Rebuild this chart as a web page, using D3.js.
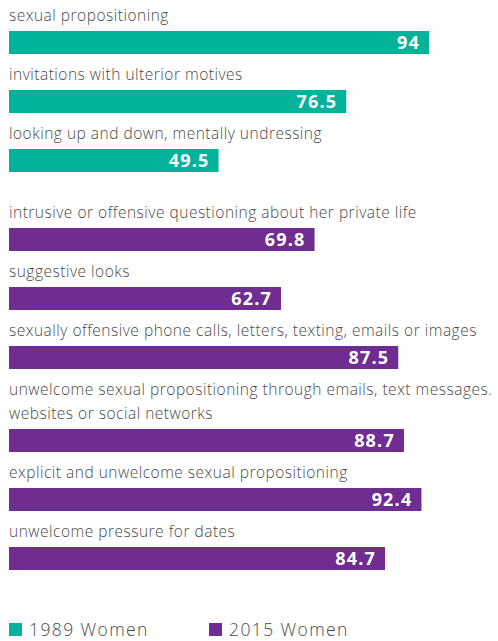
<!DOCTYPE html>
<html><head><meta charset="utf-8">
<script src="https://cdn.jsdelivr.net/npm/d3@7"></script>
<style>
html,body{margin:0;padding:0;background:#fff;}
</style></head>
<body>
<svg id="chart" width="498" height="641"></svg>
<script>
const categories = [
  ["sexual propositioning"],
  ["invitations with ulterior motives"],
  ["looking up and down, mentally undressing"],
  ["intrusive or offensive questioning about her private life"],
  ["suggestive looks"],
  ["sexually offensive phone calls, letters, texting, emails or images"],
  ["unwelcome sexual propositioning through emails, text messages.", "websites or social networks"],
  ["explicit and unwelcome sexual propositioning"],
  ["unwelcome pressure for dates"]
];
const values = [94, 76.5, 49.5, 69.8, 62.7, 87.5, 88.7, 92.4, 84.7];
const seriesOf = ["1989 Women", "1989 Women", "1989 Women", "2015 Women", "2015 Women", "2015 Women", "2015 Women", "2015 Women", "2015 Women"];
const seriesNames = ["1989 Women", "2015 Women"];
const seriesColors = ["#00b39a", "#6f2c91"];

const svg = d3.select("#chart");
const labelFont = "'Open Sans', sans-serif";
const x = d3.scaleLinear().domain([5.2, 100]).range([9, 457.4]);
const color = d3.scaleOrdinal().domain(seriesNames).range(seriesColors);

const barH = 23, lineH = 24, step = 59, groupGap = 20;
let cursor = 1;
const rows = categories.map((lines, i) => {
  if (i > 0 && seriesOf[i] !== seriesOf[i - 1]) cursor += groupGap;
  const labelBase = cursor + 20;
  const barTop = cursor + 30 + (lines.length - 1) * lineH;
  cursor = barTop + barH + (step - 30 - barH);
  return {lines, value: values[i], series: seriesOf[i], labelBase, barTop};
});

const g = svg.selectAll("g.row").data(rows).join("g").attr("class", "row");

g.each(function(d) {
  const sel = d3.select(this);
  d.lines.forEach((t, j) => {
    sel.append("text")
      .attr("x", 9)
      .attr("y", d.labelBase + j * lineH)
      .attr("font-family", labelFont)
      .attr("font-size", 15.5)
      .attr("font-weight", 300)
      .attr("letter-spacing", 0.5)
      .attr("fill", "#4a4a4a")
      .text(t);
  });
});

g.append("rect")
  .attr("x", x(x.domain()[0]))
  .attr("y", d => d.barTop)
  .attr("width", d => x(d.value) - x(x.domain()[0]))
  .attr("height", barH)
  .attr("fill", d => color(d.series));

g.append("text")
  .attr("x", d => x(d.value) - 9)
  .attr("y", d => d.barTop + barH / 2 + 6.3)
  .attr("text-anchor", "end")
  .attr("font-family", labelFont)
  .attr("font-size", 18)
  .attr("font-weight", 700)
  .attr("letter-spacing", 1.2)
  .attr("fill", "#fff")
  .text(d => d.value);

const legend = svg.selectAll("g.legend").data(seriesNames).join("g")
  .attr("class", "legend")
  .attr("transform", (d, i) => `translate(${9 + i * 200},623)`);
legend.append("rect").attr("width", 13).attr("height", 13).attr("fill", d => color(d));
legend.append("text")
  .attr("x", 20).attr("y", 12.5)
  .attr("font-family", labelFont)
  .attr("font-size", 17.5)
  .attr("font-weight", 300)
  .attr("letter-spacing", 1.4)
  .attr("fill", "#4a4a4a")
  .text(d => d);
</script>
</body></html>
